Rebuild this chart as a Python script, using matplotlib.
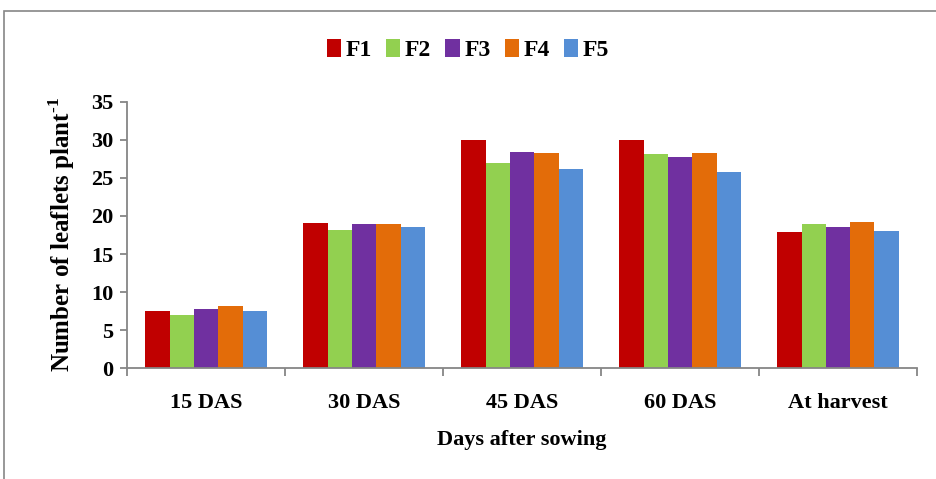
import numpy as np
import matplotlib
matplotlib.use("Agg")
import matplotlib.pyplot as plt
from matplotlib.patches import Rectangle

# Data
categories = ["15 DAS", "30 DAS", "45 DAS", "60 DAS", "At harvest"]
series_names = ["F1", "F2", "F3", "F4", "F5"]
f1 = [7.5, 19.1, 29.9, 29.9, 17.9]
f2 = [7.0, 18.1, 26.9, 28.1, 18.9]
f3 = [7.8, 18.9, 28.4, 27.7, 18.6]
f4 = [8.2, 19.0, 28.2, 28.2, 19.2]
f5 = [7.5, 18.5, 26.2, 25.8, 18.0]
series = [f1, f2, f3, f4, f5]
colors = ["#C00000", "#92D050", "#7030A0", "#E36C09", "#558ED5"]
y_ticks = [0, 5, 10, 15, 20, 25, 30, 35]

plt.rcParams['font.family'] = ['Liberation Serif', 'DejaVu Serif']
plt.rcParams['font.weight'] = 'bold'
plt.rcParams['mathtext.fontset'] = 'custom'
plt.rcParams['mathtext.rm'] = 'Liberation Serif:bold'
plt.rcParams['mathtext.bf'] = 'Liberation Serif:bold'

fig = plt.figure(figsize=(9.36, 4.79), dpi=100)
ax = fig.add_axes([0.1357, 0.231, 0.844, 0.557])

# outer chart border
fig.patches.append(Rectangle((4 / 936, -0.05), 1.0, 1 - 11 / 479 + 0.05,
                             transform=fig.transFigure, fill=False,
                             edgecolor="#868686", linewidth=1.2))

n = len(series)
bar_w = 0.154
x = np.arange(len(categories))
for i, (vals, name, c) in enumerate(zip(series, series_names, colors)):
    offs = (i - (n - 1) / 2) * bar_w
    ax.bar(x + offs, vals, width=bar_w, color=c, label=name, edgecolor="none")

ax.set_xlim(-0.5, len(categories) - 0.5)
ax.set_ylim(0, 35)
ax.set_yticks(y_ticks)
ax.set_xticks(x)
ax.set_xticklabels(categories, fontsize=16, fontweight='bold')
ax.tick_params(axis='x', length=0, pad=18)
ax.set_xticks(np.arange(len(categories) + 1) - 0.5, minor=True)
ax.tick_params(axis='x', which='minor', length=6, color="#868686", width=1.3)
ax.tick_params(axis='y', labelsize=16, length=5, color="#868686", width=1.3, pad=5)
for lab in ax.get_yticklabels():
    lab.set_fontweight('bold')

for s in ["top", "right"]:
    ax.spines[s].set_visible(False)
for s in ["left", "bottom"]:
    ax.spines[s].set_color("#868686")
    ax.spines[s].set_linewidth(1.3)

ax.set_xlabel("Days after sowing", fontsize=16, fontweight='bold', labelpad=12)
ax.set_ylabel("Number of leaflets plant$^{\\text{-1}}$", fontsize=18,
              fontweight='bold', labelpad=10)

fig.legend(loc="center", bbox_to_anchor=(0.5, 0.895), ncol=5, frameon=False,
           prop={'size': 17, 'weight': 'bold'}, handlelength=0.6,
           handleheight=0.8, handletextpad=0.2, columnspacing=0.6)

fig.savefig("out.png", dpi=100)
